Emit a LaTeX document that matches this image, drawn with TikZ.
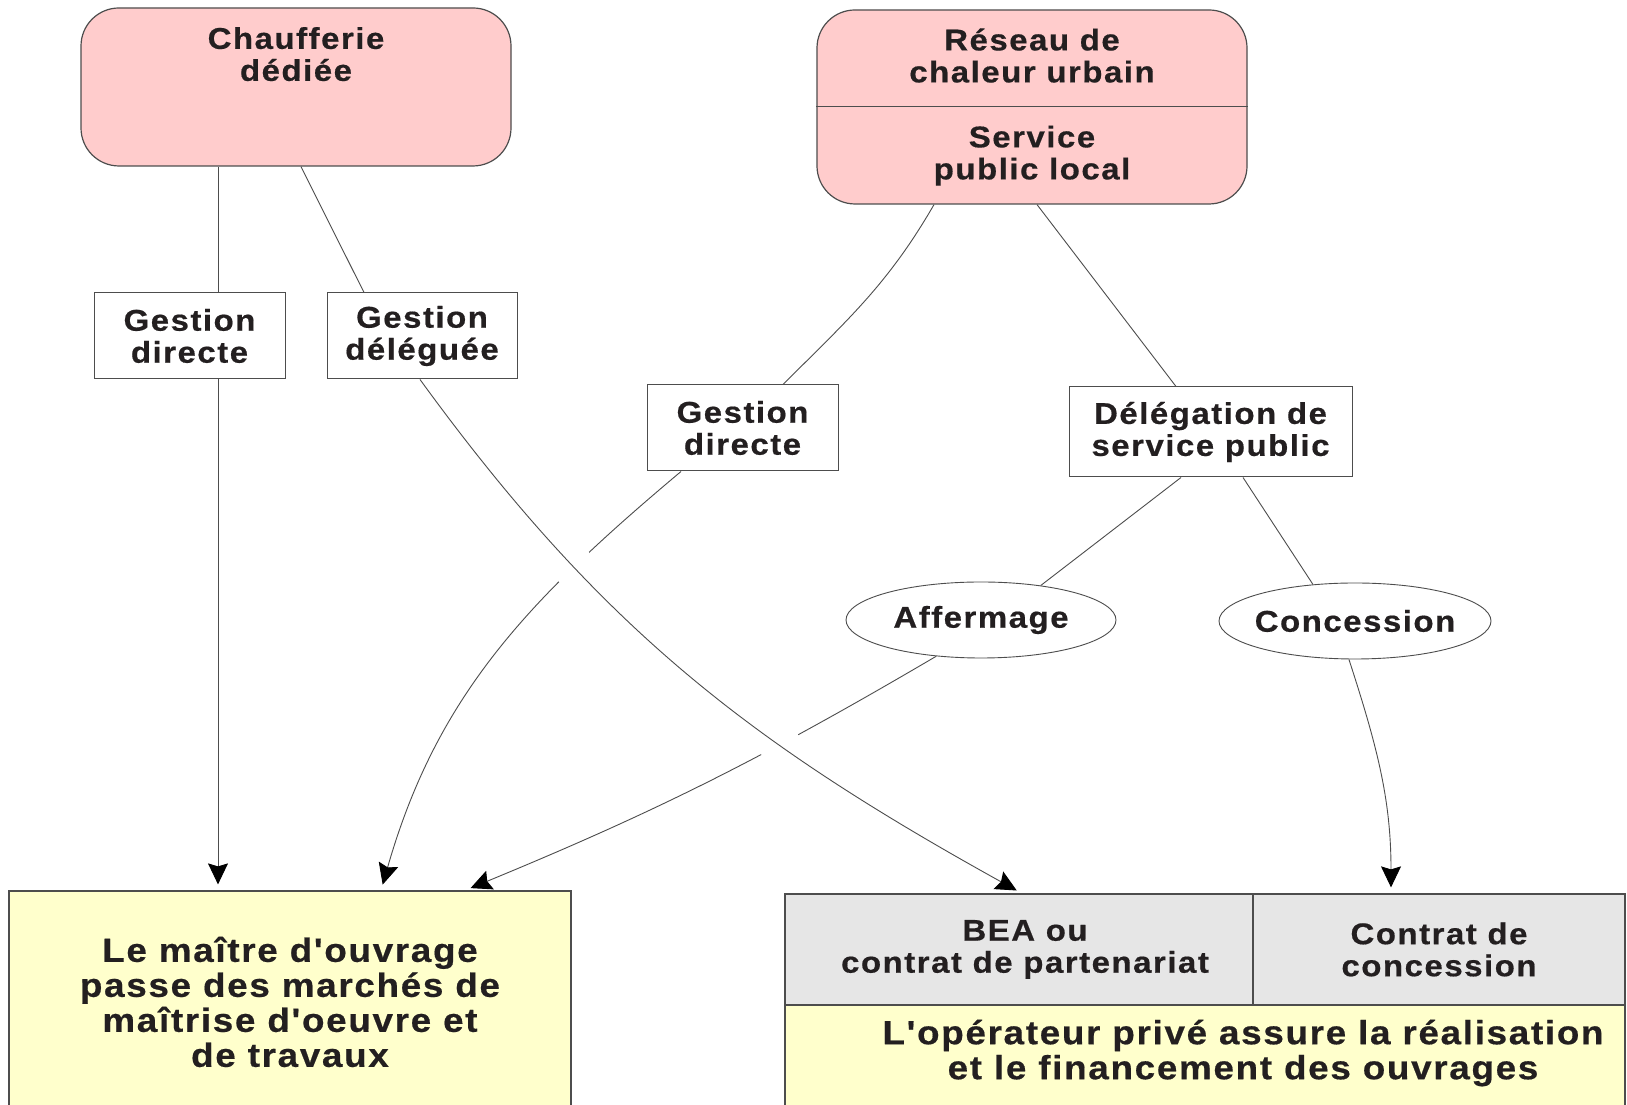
\documentclass[tikz,border=0pt]{standalone}
\usepackage{fontspec}
\newfontfamily\diagfont[LetterSpace=5,FakeStretch=1.1,FakeBold=0.5]{Liberation Sans Bold}
\usetikzlibrary{shapes.geometric,arrows.meta,intersections}
\definecolor{rose}{HTML}{FFCCCC}
\definecolor{creme}{HTML}{FFFFCC}
\definecolor{grisclair}{HTML}{E6E6E6}
\definecolor{trait}{HTML}{4D4D4D}
\definecolor{encre}{HTML}{231F20}

\begin{document}
\begin{tikzpicture}[x=1pt,y=1pt,
    txt/.style={font=\diagfont\fontsize{30}{32}\selectfont, text=encre, align=center},
    bigtxt/.style={font=\diagfont\fontsize{33.5}{35}\selectfont, text=encre, align=center},
    rond/.style={txt, draw=trait, line width=1.2pt, fill=rose, rounded corners=38pt, inner sep=0pt, minimum width=430pt},
    boite/.style={txt, draw=trait, line width=1pt, fill=white, inner sep=0pt, minimum height=86pt},
    bulle/.style={txt, ellipse, draw=trait, line width=0.9pt, fill=white, inner ysep=0pt, inner xsep=-5pt, minimum height=76pt},
    cadre/.style={draw=trait, line width=1.2pt, inner sep=0pt},
    lien/.style={draw=trait, line width=0.9pt},
    fleche/.style={lien, -{Stealth[length=21pt,width=20pt,inset=3pt,color=black]}, shorten >=6pt}]

\clip (0,0) rectangle (1627,1105);
\fill[white] (0,0) rectangle (1627,1105);

% les deux cas de depart
\node[rond, minimum height=158pt, text depth=66pt] (chauff) at (296,1018) {Chaufferie\\dédiée};
\node[rond, minimum height=194pt] (reseau) at (1032,998) {Réseau de\\chaleur urbain\\[33pt]Service\\public local};
\draw[trait, line width=1pt] (reseau.west) -- (reseau.east);

% modes de gestion
\node[boite, minimum width=191pt] (gdA) at (189.5,769) {Gestion\\directe};
\node[boite, minimum width=190pt] (gdel) at (422,769) {Gestion\\déléguée};
\node[boite, minimum width=191pt] (gdB) at (742.5,677) {Gestion\\directe};
\node[boite, minimum width=283pt, minimum height=90pt] (dsp) at (1210.5,673) {Délégation de\\service public};
\node[bulle, minimum width=270pt] (aff) at (981,485) {Affermage};
\node[bulle, minimum width=272pt] (conc) at (1355,484) {Concession};

% cadres du bas
\node[cadre, bigtxt, fill=creme, minimum width=562pt, minimum height=222pt] (moa) at (290,103) {Le maître d'ouvrage\\passe des marchés de\\maîtrise d'oeuvre et\\de travaux};
\node[cadre, fill=creme, minimum width=840pt, minimum height=108pt] (opbox) at (1205,46) {};
\node[bigtxt] (optext) at (1243,52) {L'opérateur privé assure la réalisation\\et le financement des ouvrages};
\node[cadre, txt, fill=grisclair, minimum width=468pt, minimum height=111pt] (bea) at (1019,155.5) {\hspace*{12pt}BEA ou\\\hspace*{12pt}contrat de partenariat};
\node[cadre, txt, fill=grisclair, minimum width=372pt, minimum height=111pt] (contrat) at (1439,155.5) {Contrat de\\concession};

% liens
\path ([xshift=-78pt]chauff.south) edge[lien] ([xshift=28.5pt]gdA.north);
\path ([xshift=28.5pt]gdA.south) edge[fleche] ([xshift=-72pt]moa.north);
\path ([xshift=5pt]chauff.south) edge[lien] ([xshift=-58pt]gdel.north);
\path ([xshift=-98pt]reseau.south) edge[lien, out=-120, in=45] ([xshift=40.5pt]gdB.north);
\path ([xshift=5pt]reseau.south) edge[lien] ([xshift=-34.5pt]dsp.north);
\draw[fleche, name path=directe] ([xshift=-61.5pt]gdB.south) to[out=220, in=74] ([xshift=91pt]moa.north);
\path ([xshift=-29.5pt]dsp.south) edge[lien] (aff.30);
\path ([xshift=32.5pt]dsp.south) edge[lien] (conc.139);
\draw[fleche, name path=fermage] (aff.-141) to[bend left=4] ([xshift=175pt]moa.north);
\path (conc.-99) edge[fleche, out=-72, in=90] ([xshift=-48pt]contrat.north);

% coupures aux croisements
\path[name path=deleg] ([xshift=-2pt]gdel.south) to[out=-54, in=151] ([xshift=3pt]bea.north);
\fill[white, name intersections={of=deleg and directe}] (intersection-1) circle (21pt);
\fill[white, name intersections={of=deleg and fermage}] (intersection-1) circle (21pt);
\draw[fleche] ([xshift=-2pt]gdel.south) to[out=-54, in=151] ([xshift=3pt]bea.north);
\end{tikzpicture}
\end{document}
